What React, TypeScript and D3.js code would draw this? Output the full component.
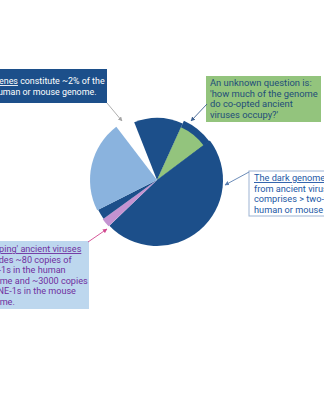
import React from "react";
import * as d3 from "d3";

// Pie slices, clockwise from 12 o'clock (percent of genome)
const sliceNames = ["genes-gap", "top-navy", "green", "dark-genome", "pink", "small-navy", "light-blue"];
const sliceValues = [4.4, 12.8, 8.0, 48.1, 2.2, 2.5, 22.1];
const sliceColors = ["#ffffff", "#1c4f8a", "#93c47d", "#1c4f8a", "#c493d1", "#1c4f8a", "#8ab3de"];
const sliceRadius = [66, 62, 58, 66, 67, 66, 67];
const startOffsetDeg = -37.4;

const genesLines = ["Genes constitute ~2% of the", "human or mouse genome."];
const questionLines = ["An unknown question is:", "'how much of the genome", "do co-opted ancient", "viruses occupy?'"];
const darkLines = ["The dark genome", "from ancient viruses", "comprises > two-thirds of the", "human or mouse genome."];
const jumpLines = ["'Jumping' ancient viruses", "includes ~80 copies of", "LINE-1s in the human", "genome and ~3000 copies", "of LINE-1s in the mouse", "genome."];

const W = 324;
const H = 400;
const cx = 157;
const cy = 180;
const font = "Roboto, 'Liberation Sans', Arial, sans-serif";

function Arrow({ x1, y1, x2, y2, color, id }: { x1: number; y1: number; x2: number; y2: number; color: string; id: string }) {
  return <line x1={x1} y1={y1} x2={x2} y2={y2} stroke={color} strokeWidth={0.9} markerEnd={`url(#${id})`} />;
}

export default function App() {
  const off = (startOffsetDeg * Math.PI) / 180;
  const pie = d3
    .pie<number>()
    .sort(null)
    .value((d) => d)
    .startAngle(off)
    .endAngle(off + 2 * Math.PI);
  const arcs = pie(sliceValues);
  const arcGen = d3.arc<d3.PieArcDatum<number>>().innerRadius(0);

  const greenIdx = sliceNames.indexOf("green");
  const darkIdx = sliceNames.indexOf("dark-genome");
  const backing = arcGen.outerRadius(65)({
    ...arcs[greenIdx],
    endAngle: arcs[darkIdx].startAngle + 0.01,
  } as d3.PieArcDatum<number>);

  const fs = 8.9;
  const lh = 10.5;

  return (
    <svg
      width={W}
      height={H}
      style={{ position: "fixed", left: 0, top: 0, background: "#fff" }}
      fontFamily={font}
    >
      <defs>
        {[
          ["ah-gray", "#a6a6a6"],
          ["ah-navy", "#3b5f8f"],
          ["ah-blue", "#5b7fb0"],
          ["ah-pink", "#d1478f"],
        ].map(([id, c]) => (
          <marker key={id} id={id} viewBox="0 0 10 10" refX={9} refY={5} markerWidth={5} markerHeight={5} orient="auto">
            <path d="M0,0 L10,5 L0,10 z" fill={c} />
          </marker>
        ))}
      </defs>

      <g transform={`translate(${cx},${cy})`}>
        <path d={backing ?? ""} fill="#1c4f8a" />
        {arcs.map((a, i) => (
          <path key={sliceNames[i]} d={arcGen.outerRadius(sliceRadius[i])(a) ?? ""} fill={sliceColors[i]} />
        ))}
      </g>

      {/* Genes box (top-left) */}
      <rect x={-10} y={69} width={117} height={34} fill="#1c4f8a" />
      <text x={-7} y={84} fontSize={fs} fill="#ffffff">
        <tspan textDecoration="underline">Genes</tspan>
        {genesLines[0].slice(5)}
      </text>
      <text x={-7} y={84 + 11} fontSize={fs} fill="#ffffff">
        {genesLines[1]}
      </text>
      <Arrow x1={107} y1={103} x2={122} y2={121} color="#a6a6a6" id="ah-gray" />

      {/* Question box (top-right) */}
      <rect x={206} y={76} width={115} height={46} fill="#93c47d" />
      {questionLines.map((t, i) => (
        <text key={t} x={210} y={86 + i * lh} fontSize={9.4} fill="#1f4e79">
          {t}
        </text>
      ))}
      <Arrow x1={207} y1={104} x2={191} y2={121} color="#3b5f8f" id="ah-navy" />

      {/* Dark genome box (right) */}
      <rect x={249} y={171} width={100} height={45} fill="#ffffff" stroke="#9db4d3" strokeWidth={1} />
      {darkLines.map((t, i) => (
        <text
          key={t}
          x={254}
          y={181 + i * lh}
          fontSize={9.2}
          fill="#2358a6"
          textDecoration={i === 0 ? "underline" : undefined}
        >
          {t}
        </text>
      ))}
      <Arrow x1={249} y1={172} x2={225} y2={185} color="#5b7fb0" id="ah-blue" />

      {/* Jumping viruses box (bottom-left) */}
      <rect x={-10} y={241} width={99} height={68} fill="#bdd7ee" />
      <text x={-20.5} y={252} fontSize={9.1} fill="#7030a0">
        {"'"}
        <tspan textDecoration="underline">{jumpLines[0].slice(1)}</tspan>
      </text>
      {jumpLines.slice(1).map((t, i) => (
        <text key={t} x={-20.5} y={252 + (i + 1) * lh} fontSize={9.1} fill="#7030a0">
          {t}
        </text>
      ))}
      <Arrow x1={88} y1={242} x2={107} y2={229} color="#d1478f" id="ah-pink" />
    </svg>
  );
}
